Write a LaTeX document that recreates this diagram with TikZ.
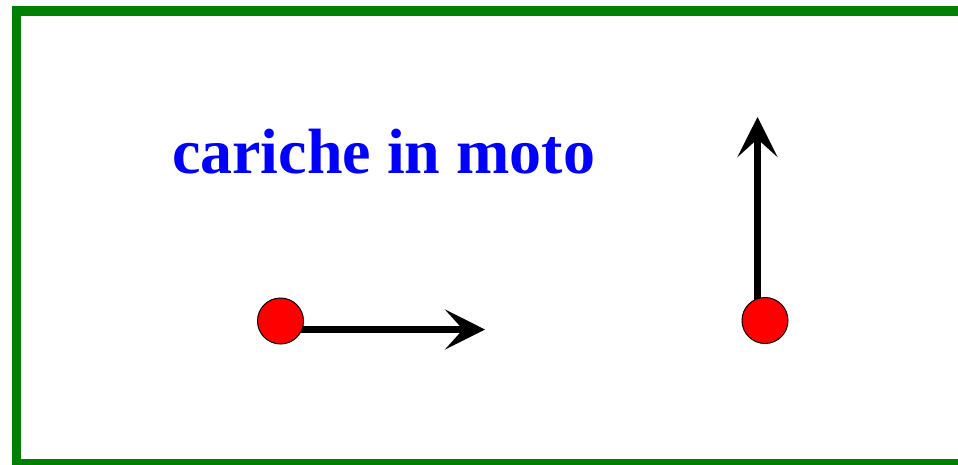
\documentclass[tikz,border=0pt]{standalone}
\usepackage{fontspec}
\setmainfont{Liberation Serif}
\usetikzlibrary{arrows.meta,backgrounds}
\definecolor{cornice}{RGB}{0,128,0}

\begin{document}
\begin{tikzpicture}[x=1pt, y=-1pt]
\tikzset{
    carica/.style={circle, draw=black, line width=1pt, fill=red, minimum size=46pt, inner sep=0pt},
    vettore/.style={-{Stealth[length=40pt, width=40pt, inset=18pt]}, line width=7.5pt, black},
    titolo/.style={text=blue, font=\bfseries\fontsize{64}{70}\selectfont, anchor=base, inner sep=0pt}
}
\useasboundingbox (0,0) rectangle (958,464);
\clip (0,0) rectangle (958,464);
% frame, open on the right
\draw[cornice, line width=9.5pt] (1000,11) -- (16.5,11) -- (16.5,463.5) -- (1000,463.5);

\node[titolo] (title) at (383.5,173) {cariche in moto};

\node[carica] (q1) at (280.5,321) {};
\node[carica] (q2) at (765,320.5) {};
\coordinate (v1) at (485,329.5);
\coordinate (v2) at (757.5,117);

% the arrows go under the charges
\begin{pgfonlayer}{background}
\draw[vettore] (q1.center |- v1) -- (v1);
\draw[vettore] (v2 |- q2.center) -- (v2);
\end{pgfonlayer}
\end{tikzpicture}
\end{document}
